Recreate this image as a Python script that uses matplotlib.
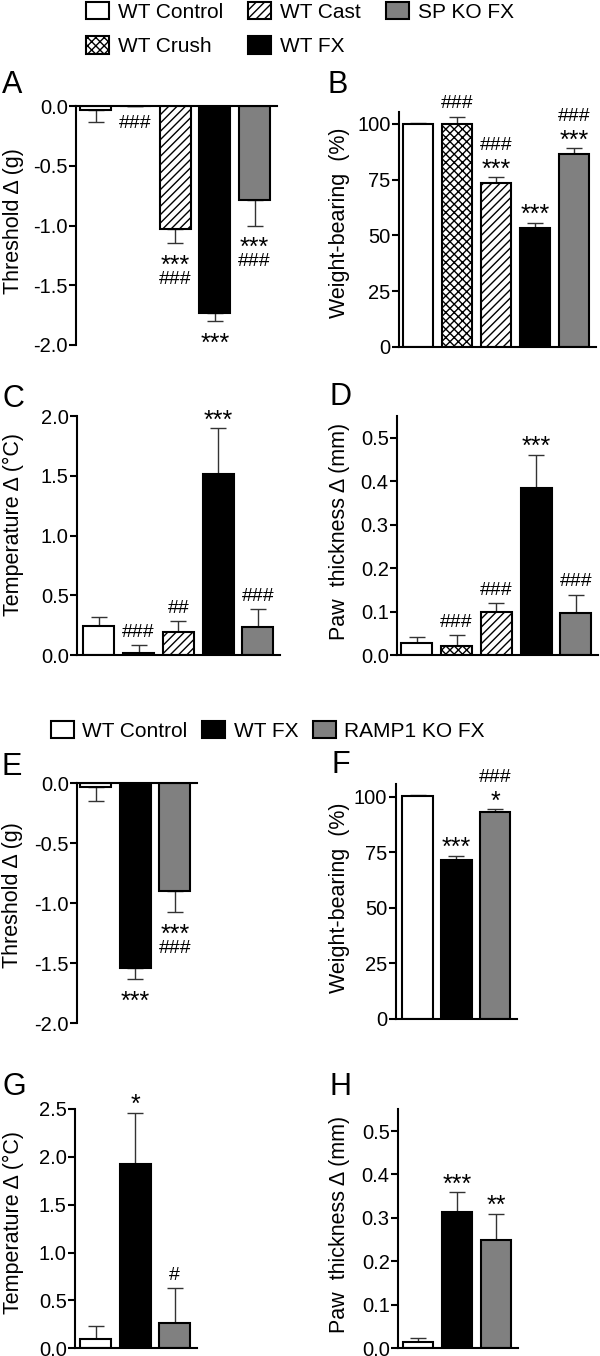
import matplotlib
matplotlib.use('Agg')
import matplotlib.pyplot as plt
from matplotlib.patches import Patch
from matplotlib.ticker import FormatStrFormatter
import numpy as np

plt.rcParams['font.family'] = ['Liberation Sans', 'DejaVu Sans']
plt.rcParams['axes.unicode_minus'] = False
plt.rcParams['hatch.linewidth'] = 1.0

# ---- data ----
groups_sp = ['WT Control', 'WT Crush', 'WT Cast', 'WT FX', 'SP KO FX']
groups_ramp = ['WT Control', 'WT FX', 'RAMP1 KO FX']

threshold_sp = [-0.03, 0.0, -1.03, -1.73, -0.79]
threshold_sp_err = [0.10, 0.0, 0.12, 0.07, 0.21]
threshold_sp_sig = [[], ['###'], ['***', '###'], ['***'], ['***', '###']]

weight_sp = [100.2, 100.0, 73.6, 53.4, 86.7]
weight_sp_err = [0.3, 3.3, 2.5, 2.3, 2.4]
weight_sp_sig = [[], ['###'], ['***', '###'], ['***'], ['***', '###']]

temp_sp = [0.245, 0.02, 0.195, 1.515, 0.237]
temp_sp_err = [0.075, 0.064, 0.092, 0.382, 0.145]
temp_sp_sig = [[], ['###'], ['##'], ['***'], ['###']]

paw_sp = [0.028, 0.021, 0.100, 0.385, 0.097]
paw_sp_err = [0.013, 0.025, 0.019, 0.076, 0.042]
paw_sp_sig = [[], ['###'], ['###'], ['***'], ['###']]

threshold_ramp = [-0.03, -1.54, -0.895]
threshold_ramp_err = [0.12, 0.09, 0.18]
threshold_ramp_sig = [[], ['***'], ['***', '###']]

weight_ramp = [100.4, 71.5, 93.0]
weight_ramp_err = [0.3, 1.9, 1.5]
weight_ramp_sig = [[], ['***'], ['*', '###']]

temp_ramp = [0.10, 1.93, 0.26]
temp_ramp_err = [0.13, 0.53, 0.37]
temp_ramp_sig = [[], ['*'], ['#']]

paw_ramp = [0.015, 0.314, 0.249]
paw_ramp_err = [0.009, 0.045, 0.061]
paw_ramp_sig = [[], ['***'], ['**']]

# ---- styles ----
style = {
    'WT Control': ('white', None),
    'WT Crush': ('white', 'xxxx'),
    'WT Cast': ('white', '////'),
    'WT FX': ('black', None),
    'SP KO FX': ('#808080', None),
    'RAMP1 KO FX': ('#808080', None),
}

W, H = 600, 1356
fig = plt.figure(figsize=(W / 100, H / 100), dpi=100)


def px_rect(l, t, r, b):
    return [l / W, 1 - b / H, (r - l) / W, (b - t) / H]


def panel(rect, groups, means, errs, sigs, ylim, yticks, fmt, ylabel,
          label_xy, letter, letter_xy, xleft):
    ax = fig.add_axes(px_rect(*rect))
    x = np.arange(len(groups))
    neg = ylim[1] <= 0
    for i, g in enumerate(groups):
        fc, hatch = style[g]
        ax.bar(x[i], means[i], width=0.78, color=fc, edgecolor='black',
               linewidth=1.5, hatch=hatch, zorder=2)
    lower = [e if neg else 0 for e in errs]
    upper = [0 if neg else e for e in errs]
    ax.errorbar(x, means, yerr=[lower, upper], fmt='none', ecolor='#333333',
                elinewidth=1, capsize=5.5, capthick=1, zorder=1)

    # significance marks, stacked away from the error bar end
    d = -1 if neg else 1
    for i, marks in enumerate(sigs):
        end = means[i] + d * errs[i]
        for k, m in enumerate(marks):
            fs = 18 if m.startswith('*') else 14
            center = 0.58 if m.startswith('*') else 0.35
            off_px = d * (15 + 19 * k) - center * fs * 100 / 72
            ax.annotate(m, xy=(x[i], end), xytext=(0, off_px * 0.72),
                        textcoords='offset points', ha='center',
                        va='baseline', fontsize=fs, annotation_clip=False)

    ax.set_xlim(xleft, len(groups) - 0.44)
    ax.set_ylim(*ylim)
    ax.set_yticks(yticks)
    ax.yaxis.set_major_formatter(FormatStrFormatter(fmt))
    ax.set_xticks([])
    for s in ['top', 'right']:
        ax.spines[s].set_visible(False)
    for s in ['left', 'bottom']:
        ax.spines[s].set_linewidth(1.5)
    if neg:
        ax.spines['bottom'].set_position(('data', 0))
    ax.tick_params(axis='y', direction='out', length=5, width=1.5, pad=1,
                   labelsize=14.5)
    ax.patch.set_visible(False)
    ax.set_ylabel(ylabel, fontsize=15.5)
    ax.yaxis.set_label_coords(label_xy[0] / W, 1 - label_xy[1] / H,
                              transform=fig.transFigure)
    ax.yaxis.label.set_va('center')
    fig.text(letter_xy[0] / W, 1 - letter_xy[1] / H, letter, fontsize=22,
             ha='left', va='baseline')
    return ax


panel((76, 106, 277, 345), groups_sp, threshold_sp, threshold_sp_err,
      threshold_sp_sig, (-2.0, 0.0), np.arange(-2.0, 0.01, 0.5), '%.1f',
      'Threshold \u0394 (g)', (14, 221), 'A', (2, 93), -0.49)
panel((399, 111.7, 596, 346.7), groups_sp, weight_sp, weight_sp_err,
      weight_sp_sig, (0, 105.5), [0, 25, 50, 75, 100], '%d',
      'Weight-bearing  (%)', (340, 223), 'B', (328, 93), -0.49)
panel((77, 416, 280, 655), groups_sp, temp_sp, temp_sp_err,
      temp_sp_sig, (0, 2.0), np.arange(0, 2.01, 0.5), '%.1f',
      'Temperature \u0394 (\u00b0C)', (13, 525), 'C', (2, 407), -0.55)
panel((397, 416, 598, 655), groups_sp, paw_sp, paw_sp_err,
      paw_sp_sig, (0, 0.55), np.arange(0, 0.51, 0.1), '%.1f',
      'Paw  thickness \u0394 (mm)', (340, 531), 'D', (330, 405), -0.5)
panel((77, 783.3, 197, 1023.3), groups_ramp, threshold_ramp,
      threshold_ramp_err, threshold_ramp_sig, (-2.0, 0.0),
      np.arange(-2.0, 0.01, 0.5), '%.1f',
      'Threshold \u0394 (g)', (13, 895), 'E', (2, 775), -0.475)
panel((395.7, 784, 517, 1018.7), groups_ramp, weight_ramp, weight_ramp_err,
      weight_ramp_sig, (0, 105.7), [0, 25, 50, 75, 100], '%d',
      'Weight-bearing  (%)', (340, 898), 'F', (332, 773), -0.565)
panel((75, 1109, 197, 1348.3), groups_ramp, temp_ramp, temp_ramp_err,
      temp_ramp_sig, (0, 2.5), np.arange(0, 2.51, 0.5), '%.1f',
      'Temperature \u0394 (\u00b0C)', (13, 1223), 'G', (2, 1095), -0.52)
panel((398, 1109.3, 518, 1348.3), groups_ramp, paw_ramp, paw_ramp_err,
      paw_ramp_sig, (0, 0.55), np.arange(0, 0.51, 0.1), '%.1f',
      'Paw  thickness \u0394 (mm)', (340, 1224), 'H', (330, 1095), -0.505)


def handles(groups):
    return [Patch(facecolor=style[g][0], hatch=style[g][1], edgecolor='black',
                  linewidth=1.5, label=g) for g in groups]


fig.legend(handles=handles(groups_sp), ncol=3, loc='upper left',
           bbox_to_anchor=(86 / W, 1 - 2 / H), frameon=False, fontsize=15,
           handlelength=1.1, handleheight=0.9, handletextpad=0.43,
           columnspacing=1.2, labelspacing=0.7, borderpad=0,
           borderaxespad=0)
fig.legend(handles=handles(groups_ramp), ncol=3, loc='upper left',
           bbox_to_anchor=(51 / W, 1 - 721 / H), frameon=False, fontsize=15,
           handlelength=1.1, handleheight=0.9, handletextpad=0.4,
           columnspacing=0.72, borderpad=0, borderaxespad=0)

fig.savefig('out.png', dpi=100)
